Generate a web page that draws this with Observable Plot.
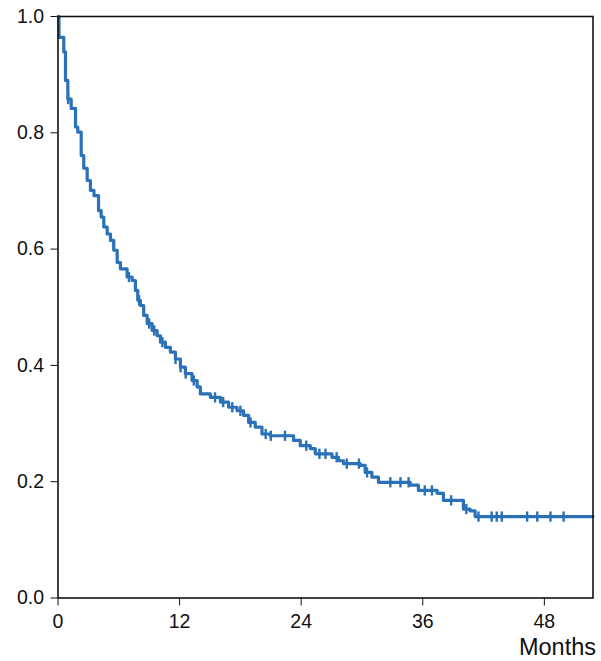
<!DOCTYPE html>
<html>
<head>
<meta charset="utf-8">
<script src="https://cdn.jsdelivr.net/npm/d3@7"></script>
<script src="https://cdn.jsdelivr.net/npm/@observablehq/plot@0.6"></script>
<style>
  html, body { margin: 0; padding: 0; background: #fff; }
  #chart svg { display: block; }
</style>
</head>
<body>
<div id="chart"></div>
<script>
// Kaplan-Meier step curve: time of each drop (months) and survival after it
const stepTimes = [0, 0.1, 0.57, 0.74, 0.97, 1.30, 1.73, 1.95, 2.29, 2.54, 2.88,
  3.20, 3.55, 4.0, 4.26, 4.52, 4.85, 5.18, 5.50, 5.84, 6.16,
  6.82, 7.32, 7.64, 7.87, 8.13, 8.46, 8.80, 9.29, 9.78, 10.11,
  10.6, 11.09, 11.59, 12.08, 12.57, 13.23, 13.73, 14.05, 15.04, 16.03,
  16.84, 17.67, 18.32, 18.81, 19.47, 20.13, 20.95, 23.25, 23.91, 24.9,
  25.39, 27.04, 27.69, 28.18, 29.83, 30.32, 30.98, 31.63, 34.76, 35.57,
  37.42, 38.04, 40.01, 40.67, 41.17];
const survival = [1.0, 0.964, 0.939, 0.890, 0.858, 0.842, 0.810, 0.801, 0.761, 0.739, 0.718,
  0.701, 0.692, 0.666, 0.655, 0.638, 0.626, 0.615, 0.598, 0.577, 0.566,
  0.552, 0.546, 0.529, 0.512, 0.503, 0.486, 0.472, 0.460, 0.451, 0.440,
  0.431, 0.423, 0.411, 0.397, 0.386, 0.374, 0.363, 0.351, 0.345, 0.337,
  0.328, 0.322, 0.314, 0.302, 0.294, 0.282, 0.279, 0.271, 0.262, 0.257,
  0.248, 0.242, 0.236, 0.231, 0.228, 0.216, 0.208, 0.199, 0.194, 0.185,
  0.180, 0.168, 0.153, 0.150, 0.140];
const followUpEnd = 52.8;

// censored observations (months)
const censorTimes = [1.0, 7.0, 8.0, 9.0, 9.5, 10.3, 11.6, 12.1, 12.6, 13.4,
  15.5, 16.3, 17.2, 18.0, 19.0, 20.5, 21.0, 22.4, 24.5, 25.8,
  26.4, 27.5, 28.5, 29.7, 30.5, 32.8, 33.8, 34.6, 36.2, 36.9,
  38.8, 40.3, 41.5, 42.8, 43.3, 43.8, 46.3, 47.3, 48.6, 49.9];

const xTicks = [0, 12, 24, 36, 48];
const yTicks = [0, 0.2, 0.4, 0.6, 0.8, 1.0];
const xLabel = "Months";

const curve = stepTimes.map((t, i) => ({t, s: survival[i]}));
curve.push({t: followUpEnd, s: survival[survival.length - 1]});

function survivalAt(t) {
  const i = d3.bisectRight(stepTimes, t) - 1;
  return survival[Math.max(0, i)];
}
const censored = censorTimes.map(t => ({t, s: survivalAt(t)}));

const vbar = {
  draw(ctx, size) {
    const h = Math.sqrt(size);
    ctx.moveTo(0, -h / 2);
    ctx.lineTo(0, h / 2);
  }
};

const blue = "#2a71b7";

const chart = Plot.plot({
  width: 601,
  height: 661,
  marginLeft: 57.5,
  marginRight: 8.5,
  marginTop: 16,
  marginBottom: 63.5,
  style: {fontFamily: "'Liberation Sans', Arial, Helvetica, sans-serif", fontSize: "19.5px", color: "#111", background: "#fff"},
  x: {domain: [0, followUpEnd], ticks: xTicks, tickSize: 8, tickPadding: 8, label: null},
  y: {domain: [0, 1], ticks: yTicks, tickFormat: d3.format(".1f"), tickSize: 7, tickPadding: 7, label: null},
  marks: [
    Plot.line(curve, {x: "t", y: "s", curve: "step-after", stroke: blue, strokeWidth: 3.2}),
    Plot.dot(censored, {x: "t", y: "s", symbol: vbar, r: 5.8, stroke: blue, strokeWidth: 2.4}),
    Plot.frame({stroke: "#111", strokeWidth: 1.6}),
    Plot.text([xLabel], {frameAnchor: "bottom-right", dx: 3, dy: 57, lineAnchor: "bottom", fontSize: 23.5, fill: "#111"})
  ]
});
document.getElementById("chart").appendChild(chart);
</script>
</body>
</html>
